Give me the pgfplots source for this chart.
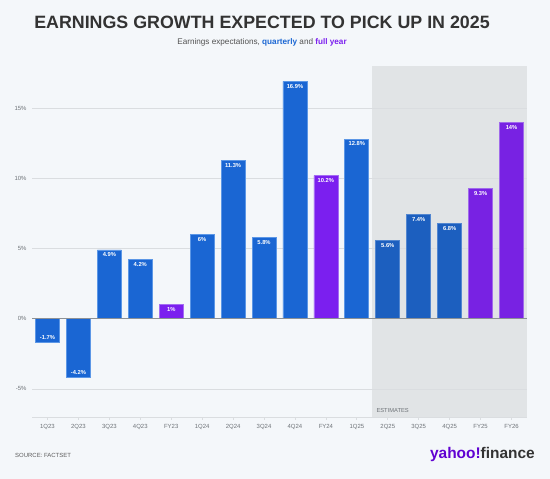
\documentclass[border=0pt]{standalone}
\usepackage{pgfplots}
\pgfplotsset{compat=1.18}
\usepackage{fontspec}
\setmainfont{Liberation Sans}
\definecolor{bgc}{HTML}{F4F7FA}
\definecolor{gridc}{HTML}{DADDE0}
\definecolor{zeroc}{HTML}{8C9196}
\definecolor{estc}{HTML}{E1E4E6}
\definecolor{qblue}{HTML}{1A66D3}
\definecolor{qbluel}{HTML}{5C97E6}
\definecolor{eblue}{HTML}{1C5FBF}
\definecolor{ebluel}{HTML}{5286D0}
\definecolor{fpurp}{HTML}{7B1FEF}
\definecolor{fpurpl}{HTML}{A46CF3}
\definecolor{epurp}{HTML}{7822E3}
\definecolor{epurpl}{HTML}{A06AEB}
\definecolor{tickc}{HTML}{6E7378}
\definecolor{titlec}{HTML}{333333}
\definecolor{yahoo}{HTML}{6001D2}
\begin{document}
\begin{tikzpicture}
\useasboundingbox (0bp,0bp) rectangle (550bp,479bp);
\fill[bgc] (0bp,0bp) rectangle (550bp,479bp);
\node[font=\bfseries\fontsize{17.9}{20}\selectfont, text=titlec, anchor=center] at (262bp,457bp) {EARNINGS GROWTH EXPECTED TO PICK UP IN 2025};
\node[font=\fontsize{8.2}{10}\selectfont, text=titlec!85, anchor=center] at (262bp,437bp) {Earnings expectations, \textcolor{qblue}{\bfseries quarterly} and \textcolor{fpurp}{\bfseries full year}};
\node[font=\fontsize{6}{7}\selectfont, text=titlec!80, anchor=base west, inner sep=0pt] at (15bp,22bp) {SOURCE: FACTSET};
\node[font=\bfseries\fontsize{15.5}{17}\selectfont, anchor=base east, inner sep=0pt] at (535bp,21bp) {\textcolor{yahoo}{yahoo!}\textcolor{titlec}{finance}};
\begin{axis}[
  at={(32bp,62bp)}, anchor=south west,
  scale only axis, width=495bp, height=351bp,
  xmin=-0.5, xmax=15.5, ymin=-7, ymax=18,
  axis x line*=bottom, axis y line*=left,
  separate axis lines,
  x axis line style={draw=gridc, line width=0.8bp},
  y axis line style={draw=none},
  xtick={0,...,15},
  xticklabels={1Q23,2Q23,3Q23,4Q23,FY23,1Q24,2Q24,3Q24,4Q24,FY24,1Q25,2Q25,3Q25,4Q25,FY25,FY26},
  ytick={-5,0,5,10,15},
  yticklabels={-5\%,0\%,5\%,10\%,15\%},
  xtick style={draw=gridc, line width=0.8bp},
  ytick style={draw=none},
  tick align=outside, major tick length=3bp,
  tick label style={font=\fontsize{6}{7}\selectfont, text=tickc},
  xticklabel style={yshift=-1bp},
  yticklabel style={xshift=1bp},
  ybar, bar width=24bp,
  nodes near coords={\pgfplotspointmeta},
  point meta=explicit symbolic,
  nodes near coords style={font=\bfseries\fontsize{5.8}{6}\selectfont, text=white, anchor=north, inner sep=2.6bp},
]
\fill[estc] (axis cs:10.5,-7) rectangle (axis cs:15.5,18);
\draw[gridc, line width=0.8bp] (axis cs:-0.5,-5) -- (axis cs:15.5,-5);
\draw[gridc, line width=0.8bp] (axis cs:-0.5,5) -- (axis cs:15.5,5);
\draw[gridc, line width=0.8bp] (axis cs:-0.5,10) -- (axis cs:15.5,10);
\draw[gridc, line width=0.8bp] (axis cs:-0.5,15) -- (axis cs:15.5,15);
\node[font=\fontsize{5.8}{7}\selectfont, text=tickc, anchor=base west, inner sep=0pt] at ([xshift=4bp,yshift=4bp]axis cs:10.5,-7) {ESTIMATES};
% quarterly, positive
\addplot[bar shift=0pt, fill=qblue, draw=qbluel, line width=0.7bp] coordinates {
  (2,4.9) [4.9\%] (3,4.2) [4.2\%] (5,6) [6\%] (6,11.3) [11.3\%] (7,5.8) [5.8\%] (8,16.9) [16.9\%] (10,12.8) [12.8\%]
};
% quarterly, negative
\addplot[bar shift=0pt, fill=qblue, draw=qbluel, line width=0.7bp, nodes near coords style={anchor=south}] coordinates {
  (0,-1.7) [-1.7\%] (1,-4.2) [-4.2\%]
};
% full year
\addplot[bar shift=0pt, fill=fpurp, draw=fpurpl, line width=0.7bp] coordinates {
  (4,1) [1\%] (9,10.2) [10.2\%]
};
% quarterly estimates
\addplot[bar shift=0pt, fill=eblue, draw=ebluel, line width=0.7bp] coordinates {
  (11,5.6) [5.6\%] (12,7.4) [7.4\%] (13,6.8) [6.8\%]
};
% full year estimates
\addplot[bar shift=0pt, fill=epurp, draw=epurpl, line width=0.7bp] coordinates {
  (14,9.3) [9.3\%] (15,14) [14\%]
};
\draw[zeroc, line width=1bp] (axis cs:-0.5,0) -- (axis cs:15.5,0);
\end{axis}
\end{tikzpicture}
\end{document}
